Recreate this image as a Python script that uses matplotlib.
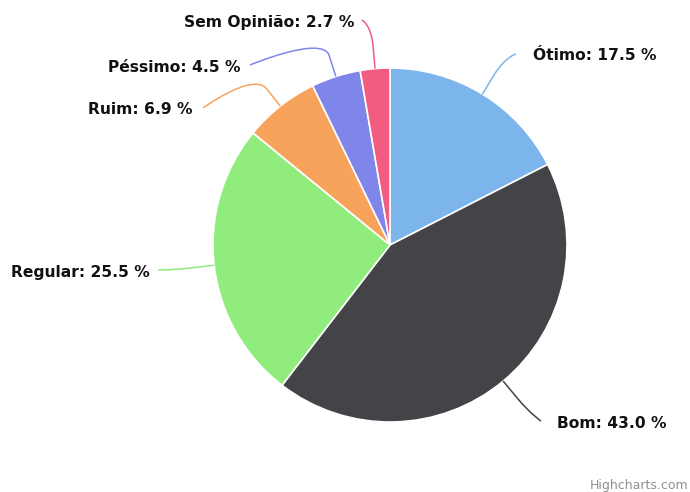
import numpy as np
import matplotlib
matplotlib.use("Agg")
import matplotlib.pyplot as plt
from matplotlib.path import Path
from matplotlib.patches import PathPatch

# dados da pesquisa
nomes = ["Ótimo", "Bom", "Regular", "Ruim", "Péssimo", "Sem Opinião"]
valores = [17.5, 43.0, 25.5, 6.9, 4.5, 2.7]
cores = ["#7cb5ec", "#434348", "#90ed7d", "#f7a35c", "#8085e9", "#f15c80"]

# layout (pixels): centro e raio da pizza, posicao dos rotulos
cx, cy, raio = 390, 245, 177
ancora = [(516, 54), (541, 421), (158, 270), (203, 108), (250, 65), (362, 20)]
texto_xy = [(533, 56), (557, 423), (150, 273), (193, 110), (240, 68), (354, 23)]
lado = ["left", "left", "right", "right", "right", "right"]

fig = plt.figure(figsize=(6.9, 4.92), dpi=100)
ax = fig.add_axes([0, 0, 1, 1])

wedges, _ = ax.pie(valores, colors=cores, startangle=-90, counterclock=True,
                   radius=raio, center=(cx, cy),
                   wedgeprops=dict(edgecolor="white", linewidth=1.2))

ax.set_xlim(0, 690)
ax.set_ylim(492, 0)
ax.set_aspect("equal")
ax.set_axis_off()

for w, nome, v, cor, (ax_, ay_), (tx, ty), ha in zip(wedges, nomes, valores, cores,
                                                       ancora, texto_xy, lado):
    meio = np.deg2rad((w.theta1 + w.theta2) / 2)
    ex, ey = cx + raio * np.cos(meio), cy + raio * np.sin(meio)
    bx, by = cx + (raio + 22) * np.cos(meio), cy + (raio + 22) * np.sin(meio)
    # conector suave estilo highcharts
    verts = [(ax_, ay_), (ax_, ay_), (2 * bx - ex, 2 * by - ey), (bx, by), (ex, ey)]
    codes = [Path.MOVETO, Path.CURVE4, Path.CURVE4, Path.CURVE4, Path.LINETO]
    ax.add_patch(PathPatch(Path(verts, codes), fill=False, edgecolor=cor, lw=1.1))
    ax.text(tx, ty, f"{nome}: {v:.1f} %", ha=ha, va="center",
            fontsize=11.2, fontweight="bold", color="#111111")

ax.text(688, 486, "Highcharts.com", ha="right", va="center", fontsize=9, color="#909090")

fig.savefig("out.png", dpi=100)
